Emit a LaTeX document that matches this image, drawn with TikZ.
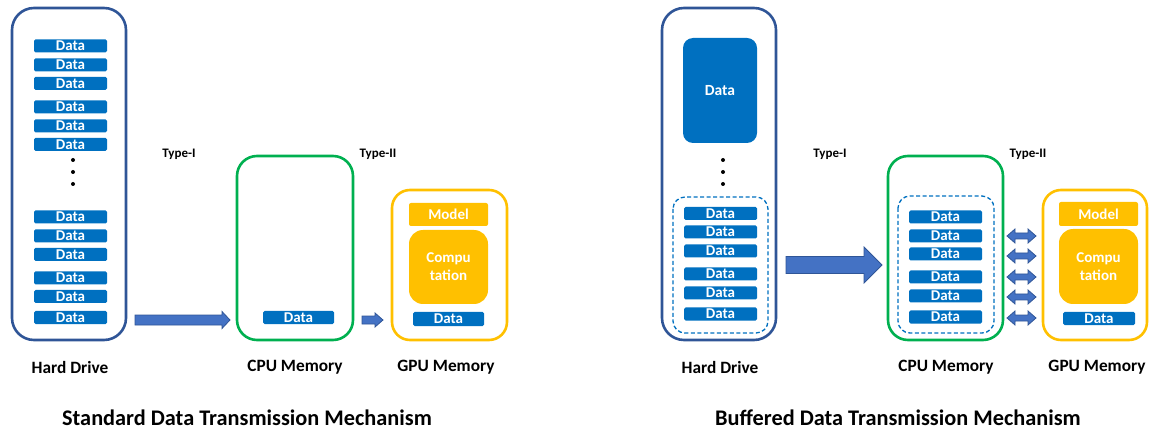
\documentclass[tikz,border=0pt]{standalone}
\usepackage{fontspec}
\setmainfont{Carlito}
\begin{document}
\begin{tikzpicture}[x=1pt,y=-1pt,
  every node/.style={font=\bfseries},
  hdbox/.style={draw=hdblue, line width=2.6pt, rounded corners=22pt},
  cpubox/.style={draw=cpugreen, line width=2.6pt, rounded corners=20pt},
  gpubox/.style={draw=gpugold, line width=2.6pt, rounded corners=18pt},
  bufbox/.style={draw=datablue, line width=1.3pt, dash pattern=on 4pt off 2.5pt, rounded corners=12pt},
  datab/.style={fill=datablue, text=white, inner sep=0pt, minimum width=73pt, minimum height=13pt, rounded corners=1.5pt, font=\bfseries\fontsize{15}{15}\selectfont},
  goldb/.style={fill=gpugold, text=white, inner sep=0pt, font=\bfseries\fontsize{15}{18}\selectfont, align=center},
  lbl/.style={font=\bfseries\fontsize{17.3}{19}\selectfont},
  typelbl/.style={font=\bfseries\fontsize{13}{15}\selectfont},
  ttl/.style={font=\bfseries\fontsize{22.3}{25}\selectfont},
  blockarrow/.style={fill=arrowfill, draw=hdblue, line width=0.8pt, line join=miter},
  dotb/.style={fill=black, circle, inner sep=0pt, minimum size=4pt}
]
\definecolor{hdblue}{HTML}{2F5597}
\definecolor{datablue}{HTML}{0070C0}
\definecolor{cpugreen}{HTML}{00B050}
\definecolor{gpugold}{HTML}{FFC000}
\definecolor{arrowfill}{HTML}{4472C4}
\useasboundingbox (0,0) rectangle (1151,430);

% ================= Left panel =================
\draw[hdbox] (12,8) rectangle (126,340);
\foreach \y [count=\i] in {46,65,83.5,107,126,144.5,217,236,254.5,278,296.5,317.5}
  \node[datab] (dl\i) at (70.5,\y) {Data};
\foreach \y [count=\i] in {160,172,184}
  \node[dotb] (dotl\i) at (73,\y) {};

\draw[cpubox] (237,156) rectangle (353,340);
\node[datab, minimum width=71pt] (dcl) at (298.5,317.5) {Data};

\draw[gpubox] (392,190) rectangle (507,340);
\node[goldb, minimum width=79pt, minimum height=23pt, rounded corners=2pt] (ml) at (448.5,214.5) {Model};
\node[goldb, minimum width=79pt, minimum height=74pt, rounded corners=14pt] (cl) at (448.5,267) {Compu\\tation};
\node[datab, minimum width=71pt, minimum height=14pt] (dgl) at (448.5,319) {Data};

% arrows
\draw[blockarrow] (135,315) -- (222,315) -- (222,311.5) -- (230,320) -- (222,328.5) -- (222,325) -- (135,325) -- cycle;
\draw[blockarrow] (362,316) -- (375,316) -- (375,313) -- (383,320) -- (375,327) -- (375,324) -- (362,324) -- cycle;

\node[typelbl] (t1l) at (179,154) {Type-I};
\node[typelbl] (t2l) at (378,154) {Type-II};

\node[lbl] (hdlab) at (70,367) {Hard Drive};
\node[lbl] (cpulab) at (295,367) {CPU Memory};
\node[lbl] (gpulab) at (446,367) {GPU Memory};
\node[ttl] (titleL) at (247,418) {Standard Data Transmission Mechanism};

% ================= Right panel =================
\draw[hdbox] (662,8) rectangle (776,340);
\node[fill=datablue, text=white, rounded corners=10pt, minimum width=74pt, minimum height=105pt, inner sep=0pt, font=\bfseries\fontsize{15.5}{17}\selectfont] (bigd) at (720,90.5) {Data};
\foreach \y [count=\i] in {160,172,184}
  \node[dotb] (dotr\i) at (723,\y) {};
\draw[bufbox] (673,197) rectangle (768,333);
\foreach \y [count=\i] in {213.5,232,251,274,293,314}
  \node[datab] (dr\i) at (720.5,\y) {Data};

\draw[cpubox] (888,156) rectangle (1003,340);
\draw[bufbox] (898,196) rectangle (994,333);
\foreach \y [count=\i] in {217,236,254,277,296,317}
  \node[datab] (dc\i) at (945.5,\y) {Data};

\draw[gpubox] (1043,190) rectangle (1147,340);
\node[goldb, minimum width=79pt, minimum height=24pt, rounded corners=2pt] (mr) at (1098.5,214) {Model};
\node[goldb, minimum width=79pt, minimum height=75pt, rounded corners=14pt] (cr) at (1098.5,266.5) {Compu\\tation};
\node[datab, minimum width=72pt] (dgr) at (1099,318.5) {Data};

% big arrow
\draw[blockarrow] (786,256.5) -- (864,256.5) -- (864,247) -- (882,265) -- (864,283) -- (864,273.5) -- (786,273.5) -- cycle;

% double arrows
\foreach \y in {236,256,277,297,318}
  \draw[blockarrow] (1007,\y) -- (1015,\y-7) -- (1015,\y-3) -- (1028,\y-3) -- (1028,\y-7) -- (1036,\y) -- (1028,\y+7) -- (1028,\y+3) -- (1015,\y+3) -- (1015,\y+7) -- cycle;

\node[typelbl] (t1r) at (830,154) {Type-I};
\node[typelbl] (t2r) at (1028,154) {Type-II};

\node[lbl] (hdrlab) at (720,367) {Hard Drive};
\node[lbl] (cpurlab) at (946,367) {CPU Memory};
\node[lbl] (gpurlab) at (1097,367) {GPU Memory};
\node[ttl] (titleR) at (898,418) {Buffered Data Transmission Mechanism};
\end{tikzpicture}
\end{document}
